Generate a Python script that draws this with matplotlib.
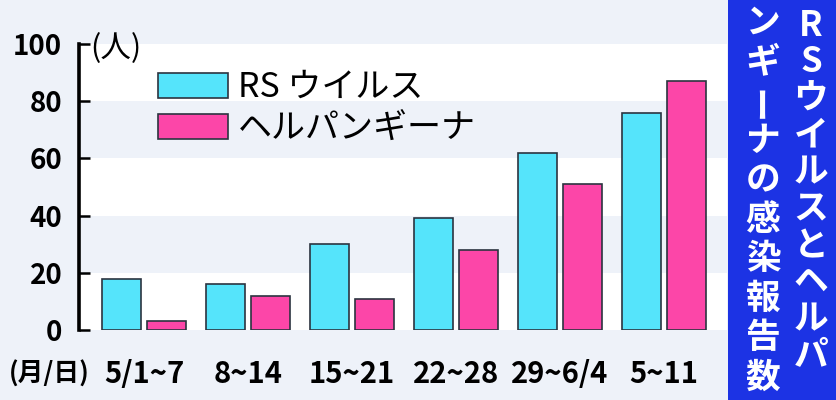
import matplotlib
matplotlib.use("Agg")
import matplotlib.pyplot as plt
import numpy as np
from matplotlib.patches import Rectangle

categories = ["5/1~7", "8~14", "15~21", "22~28", "29~6/4", "5~11"]
rs_virus = [18, 16, 30, 39, 62, 76]
herpangina = [3, 12, 11, 28, 51, 87]
series_names = ["RS ウイルス", "ヘルパンギーナ"]
yticks = [0, 20, 40, 60, 80, 100]
title_col1 = "RSウイルスとヘルパ"
title_col2 = "ンギーナの感染報告数"

W, H = 836, 400
BG = "#eef2f9"
CYAN = "#55e4fb"
PINK = "#fc46a8"
EDGE = "#2b3440"
BLUE = "#1c33e4"
CJK = "Noto Sans CJK JP"

fig = plt.figure(figsize=(W / 100, H / 100), dpi=100, facecolor=BG)

def fx(px):
    return px / W

def fy(py):
    return 1 - py / H

ax_left, ax_right, ax_top, ax_bot = 79, 727, 44, 330
ax = fig.add_axes([fx(ax_left), fy(ax_bot), fx(ax_right - ax_left), (ax_bot - ax_top) / H])
ax.set_facecolor(BG)

# alternating bands
for i, lo in enumerate(yticks[:-1]):
    ax.axhspan(lo, yticks[i + 1], color="white" if i % 2 == 0 else BG, lw=0, zorder=0)

x = np.arange(len(categories))
bw = 0.375
off = 0.216
b1 = ax.bar(x - off, rs_virus, bw, color=CYAN, edgecolor=EDGE, linewidth=1.2, zorder=3,
            label=series_names[0])
b2 = ax.bar(x + off, herpangina, bw, color=PINK, edgecolor=EDGE, linewidth=1.2, zorder=3,
            label=series_names[1])

ax.set_ylim(0, 100)
ax.set_xlim(-0.625, -0.625 + (ax_right - ax_left) / 104)
for s in ["top", "right", "bottom"]:
    ax.spines[s].set_visible(False)
ax.spines["left"].set_linewidth(2.6)
ax.spines["left"].set_color("black")
ax.set_yticks(yticks)
ax.set_yticklabels([str(t) for t in yticks], fontfamily=CJK, fontweight="bold", fontsize=20)
ax.tick_params(axis="y", direction="in", length=8, width=1.8, pad=12, colors="black")
ax.set_xticks([])

# x category labels
for xi, lab in zip(x, categories):
    ax.text(xi, -0.155, lab, transform=ax.get_xaxis_transform(), ha="center", va="center",
            fontsize=21, fontweight="bold", family=CJK, clip_on=False)
fig.text(fx(49), fy(374), "(月/日)", ha="center", va="center", fontsize=18.5,
         fontweight="bold", family=CJK)

# unit label
fig.text(fx(90), fy(49), "(人)", ha="left", va="center", fontsize=22, family=CJK)

# legend
ax_w = ax_right - ax_left
ax_h = ax_bot - ax_top
leg = ax.legend(handles=[b1, b2], loc="upper left",
                bbox_to_anchor=((158 - ax_left) / ax_w, 1 - (70 - ax_top) / ax_h),
                frameon=False, prop={"family": CJK, "size": 24.5},
                handlelength=2.05, handleheight=0.75, handletextpad=0.3, labelspacing=0.18,
                borderaxespad=0, borderpad=0)

# right blue panel with vertical title
fig.patches.append(Rectangle((fx(728), 0), fx(W - 728), 1, transform=fig.transFigure,
                             facecolor=BLUE, edgecolor="none", zorder=0))

def vertical(text, cx, y0, y1):
    ys = np.linspace(y0, y1, len(text))
    for ch, yy in zip(text, ys):
        rot = 90 if ch == "ー" else 0
        fig.text(fx(cx), fy(yy), ch, ha="center", va="center",
                 fontsize=25, fontweight="bold", color="white", family=CJK, rotation=rot)

vertical(title_col1, 811, 25, 356)
vertical(title_col2, 763, 22, 377)

fig.savefig("out.png", dpi=100, facecolor=BG)
